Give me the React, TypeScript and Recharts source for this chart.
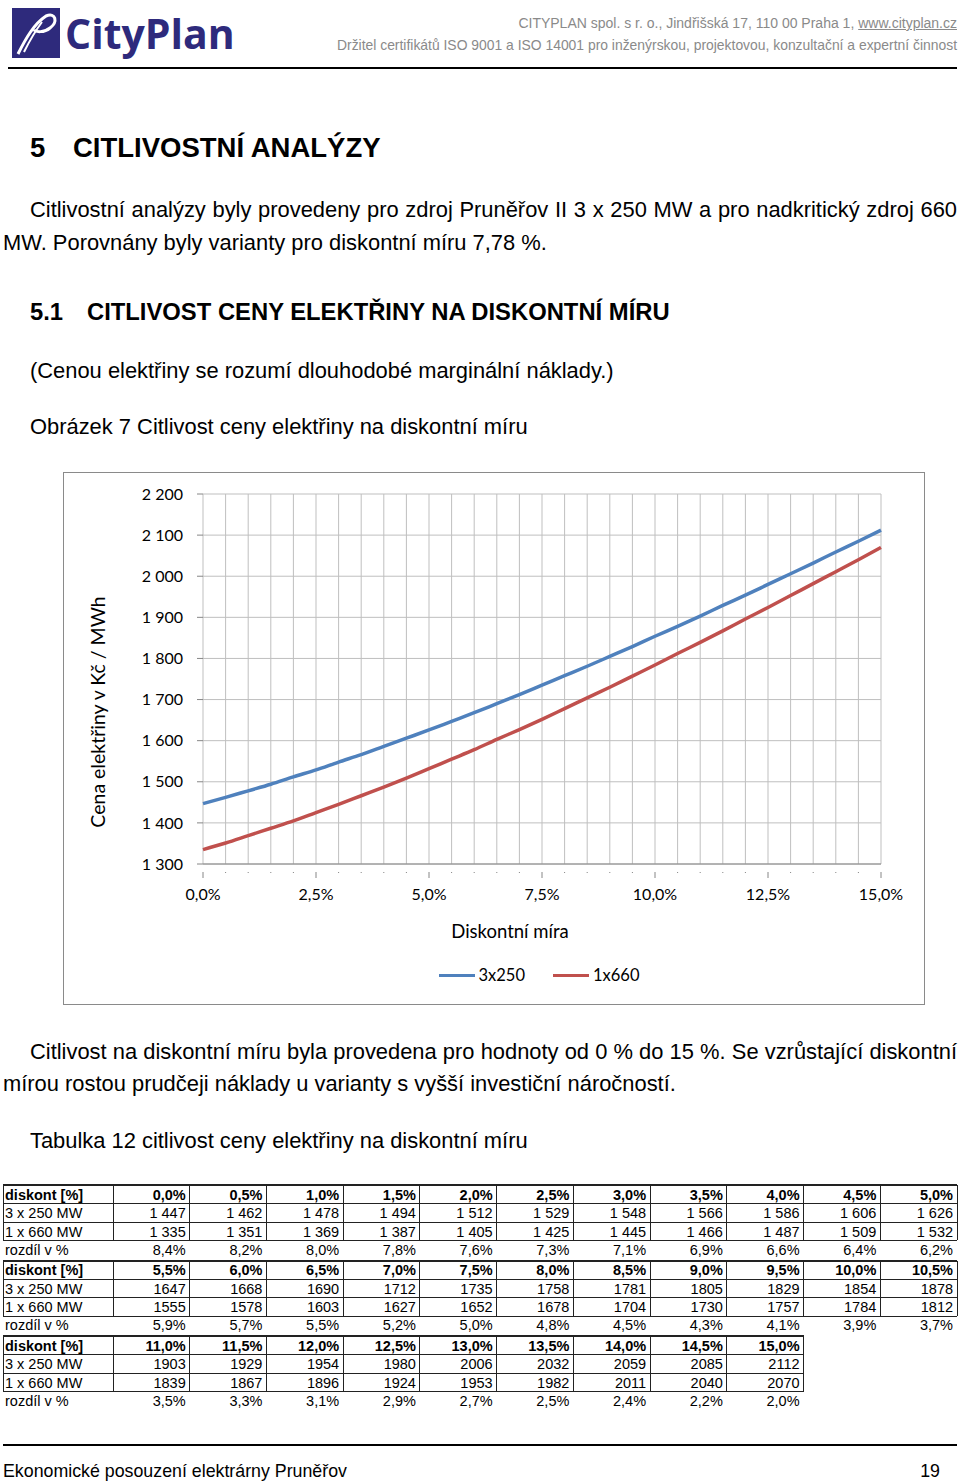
import React from 'react';
import { LineChart, Line, XAxis, YAxis, CartesianGrid, Legend, Label } from 'recharts';

// ---- data ----
const discountRates = [0, 0.5, 1, 1.5, 2, 2.5, 3, 3.5, 4, 4.5, 5, 5.5, 6, 6.5, 7, 7.5, 8, 8.5, 9, 9.5, 10, 10.5, 11, 11.5, 12, 12.5, 13, 13.5, 14, 14.5, 15];
const price3x250 = [1447, 1462, 1478, 1494, 1512, 1529, 1548, 1566, 1586, 1606, 1626, 1647, 1668, 1690, 1712, 1735, 1758, 1781, 1805, 1829, 1854, 1878, 1903, 1929, 1954, 1980, 2006, 2032, 2059, 2085, 2112];
const price1x660 = [1335, 1351, 1369, 1387, 1405, 1425, 1445, 1466, 1487, 1509, 1532, 1555, 1578, 1603, 1627, 1652, 1678, 1704, 1730, 1757, 1784, 1812, 1839, 1867, 1896, 1924, 1953, 1982, 2011, 2040, 2070];
const differencePct = ['8,4%', '8,2%', '8,0%', '7,8%', '7,6%', '7,3%', '7,1%', '6,9%', '6,6%', '6,4%', '6,2%', '5,9%', '5,7%', '5,5%', '5,2%', '5,0%', '4,8%', '4,5%', '4,3%', '4,1%', '3,9%', '3,7%', '3,5%', '3,3%', '3,1%', '2,9%', '2,7%', '2,5%', '2,4%', '2,2%', '2,0%'];
const seriesNames = ['3x250', '1x660'];
const tableRowNames = ['diskont [%]', '3 x 250 MW', '1 x 660 MW', 'rozdíl v %'];
const yTicks = [1300, 1400, 1500, 1600, 1700, 1800, 1900, 2000, 2100, 2200];
const xMajorTicks = [0, 2.5, 5, 7.5, 10, 12.5, 15];
const tableBlocks = [[0, 11], [11, 11], [22, 9]];

const chartData = discountRates.map((r, i) => ({ rate: r, a: price3x250[i], b: price1x660[i] }));

const DOC_FONT = '"Liberation Sans Narrow", "Liberation Sans", Arial, sans-serif';
const TABLE_FONT = '"Liberation Sans", Arial, sans-serif';
const CHART_FONT = 'Lato, "Open Sans", sans-serif';
const BLUE = '#4F81BD';
const RED = '#C0504D';
const NAVY = '#2E2A7C';

const fmtPct = (v: number) => v.toFixed(1).replace('.', ',') + '%';
const fmtThousands = (v: number) => {
  const s = String(v);
  return s.length > 3 ? s.slice(0, s.length - 3) + ' ' + s.slice(s.length - 3) : s;
};
const fmtTable = (v: number) => {
  const s = String(v);
  return s.slice(0, s.length - 3) + ' ' + s.slice(s.length - 3);
};

const T = ({ x, cy, size, children, bold, right, width, justify, color, lh = 30, font = DOC_FONT }: any) => (
  <div
    style={{
      position: 'absolute',
      left: right !== undefined ? undefined : x,
      right: right !== undefined ? 960 - right : undefined,
      top: cy - lh / 2,
      height: lh,
      lineHeight: lh + 'px',
      fontSize: size,
      fontWeight: bold ? 'bold' : 'normal',
      fontFamily: font,
      whiteSpace: 'nowrap',
      color: color || '#000',
      width: width,
      textAlign: justify ? 'justify' : undefined,
      textAlignLast: justify ? 'justify' : undefined,
    } as any}
  >
    {children}
  </div>
);

const XTick = (props: any) => {
  const { x, y, payload } = props;
  const v = payload.value;
  const major = xMajorTicks.includes(v);
  return (
    <g>
      <line x1={x} x2={x} y1={y} y2={y + (major ? 6 : 1)} stroke="#868686" strokeWidth={1} />
      {major && (
        <text x={x} y={y + 21} textAnchor="middle" dominantBaseline="central" fontSize={16} fontFamily={CHART_FONT} fill="#000">
          {fmtPct(v)}
        </text>
      )}
    </g>
  );
};

const YLabel = (props: any) => {
  const vb = props.viewBox;
  const cx = 34;
  const cy = vb.y + vb.height / 2 + 33;
  return (
    <text x={cx} y={cy} transform={`rotate(-90, ${cx}, ${cy})`} textAnchor="middle" dominantBaseline="central" fontSize={19.5} fontFamily={CHART_FONT} fill="#000">
      Cena elektřiny v Kč / MWh
    </text>
  );
};

const XLabel = (props: any) => {
  const vb = props.viewBox;
  const cx = vb.x + vb.width / 2 - 32;
  const cy = vb.y + 67;
  return (
    <text x={cx} y={cy} textAnchor="middle" dominantBaseline="central" fontSize={18.5} fontFamily={CHART_FONT} fill="#000">
      Diskontní míra
    </text>
  );
};

const renderLegend = (props: any) => {
  const items = [...(props.payload || [])].sort((p: any, q: any) => seriesNames.indexOf(p.value) - seriesNames.indexOf(q.value));
  return (
    <div style={{ display: 'flex', justifyContent: 'center', gap: 28, fontFamily: CHART_FONT, fontSize: 16.5, lineHeight: '20px' }}>
      {items.map((e: any) => (
        <div key={e.value} style={{ display: 'flex', alignItems: 'center' }}>
          <span style={{ display: 'inline-block', width: 36, height: 3, background: e.color, marginRight: 4 }} />
          {e.value}
        </div>
      ))}
    </div>
  );
};

const Chart = () => (
  <div style={{ position: 'absolute', left: 63, top: 472, width: 862, height: 533 }}>
    <div style={{ position: 'absolute', left: 0, top: 0, width: 862, height: 533, border: '1px solid #8a8a8a', boxSizing: 'border-box' }} />
    <LineChart width={862} height={533} data={chartData} margin={{ top: 22, right: 44, left: 0, bottom: 0 }}>
      <CartesianGrid stroke="#bfbfbf" strokeWidth={1} />
      <XAxis
        dataKey="rate"
        type="number"
        domain={[0, 15]}
        ticks={discountRates}
        interval={0}
        height={141}
        tickLine={false}
        axisLine={{ stroke: '#868686' }}
        tick={<XTick />}
      >
        <Label content={<XLabel />} />
      </XAxis>
      <YAxis
        type="number"
        domain={[1300, 2200]}
        ticks={yTicks}
        interval={0}
        width={140}
        axisLine={false}
        tickLine={{ stroke: '#868686' }}
        tickSize={6}
        tickMargin={14}
        tickFormatter={fmtThousands}
        tick={{ fontSize: 16, fill: '#000', fontFamily: CHART_FONT }}
      >
        <Label content={<YLabel />} />
      </YAxis>
      <Legend
        layout="horizontal"
        verticalAlign="middle"
        align="center"
        content={renderLegend}
        wrapperStyle={{ left: 137, top: 493, width: 678, height: 20 }}
      />
      <Line type="monotone" dataKey="a" name={seriesNames[0]} stroke={BLUE} strokeWidth={3.5} dot={false} isAnimationActive={false} />
      <Line type="monotone" dataKey="b" name={seriesNames[1]} stroke={RED} strokeWidth={3.5} dot={false} isAnimationActive={false} />
    </LineChart>
  </div>
);

const COL0_L = 3;
const COL0_W = 110;
const COL_W = 76.73;
const ROW_H = 18.4;

const Table = () => {
  const cells: any[] = [];
  tableBlocks.forEach(([start, count], bi) => {
    const top = 1185 + bi * 75.5;
    const right = COL0_L + COL0_W + count * COL_W;
    const rows = [
      discountRates.slice(start, start + count).map(fmtPct),
      price3x250.slice(start, start + count).map((v) => (bi === 0 ? fmtTable(v) : String(v))),
      price1x660.slice(start, start + count).map((v) => (bi === 0 ? fmtTable(v) : String(v))),
      differencePct.slice(start, start + count),
    ];
    cells.push(<div key={`tb${bi}`} style={{ position: 'absolute', left: COL0_L, top: top - 1, width: right - COL0_L, height: 2, background: '#222' }} />);
    [1, 2, 3].forEach((r) => {
      cells.push(<div key={`h${bi}${r}`} style={{ position: 'absolute', left: COL0_L, top: top + r * ROW_H, width: right - COL0_L, height: 1, background: '#222' }} />);
    });
    const xs = [COL0_L, COL0_L + COL0_W];
    for (let c = 1; c <= count; c++) xs.push(COL0_L + COL0_W + c * COL_W);
    xs.forEach((x, i) => {
      cells.push(<div key={`v${bi}${i}`} style={{ position: 'absolute', left: x - 0.5, top: top, width: 1, height: 3 * ROW_H, background: '#222' }} />);
    });
    rows.forEach((vals, r) => {
      const cy = top + r * ROW_H + ROW_H / 2 + 0.5;
      cells.push(
        <div key={`n${bi}${r}`} style={{ position: 'absolute', left: COL0_L + 2, top: cy - 9, height: 18, lineHeight: '18px', fontSize: 14.5, fontFamily: TABLE_FONT, fontWeight: r === 0 ? 'bold' : 'normal', whiteSpace: 'nowrap' }}>
          {tableRowNames[r]}
        </div>
      );
      vals.forEach((v, c) => {
        const xr = COL0_L + COL0_W + (c + 1) * COL_W;
        cells.push(
          <div key={`c${bi}${r}${c}`} style={{ position: 'absolute', left: xr - COL_W, width: COL_W - 4, top: cy - 9, height: 18, lineHeight: '18px', textAlign: 'right', fontSize: 14.5, fontFamily: TABLE_FONT, fontWeight: r === 0 ? 'bold' : 'normal', whiteSpace: 'nowrap' }}>
            {v}
          </div>
        );
      });
    });
  });
  return <>{cells}</>;
};

const Logo = () => (
  <div style={{ position: 'absolute', left: 12, top: 8 }}>
    <svg width={50} height={50} style={{ position: 'absolute', left: 0, top: 0 }}>
      <rect x={0} y={0} width={48} height={50} fill={NAVY} />
      <path d="M6 46 C 14 30, 22 16, 34 8 C 44 4, 46 14, 38 20 C 32 25, 24 24, 22 22" stroke="#fff" strokeWidth={3} fill="none" />
      <path d="M12 44 C 18 32, 24 22, 30 14" stroke="#fff" strokeWidth={2} fill="none" />
    </svg>
    <div style={{ position: 'absolute', left: 53, top: -5, fontSize: 41, fontWeight: 'bold', fontFamily: '"Open Sans", Lato, sans-serif', color: NAVY, whiteSpace: 'nowrap', lineHeight: '60px' }}>
      CityPlan
    </div>
  </div>
);

const BODY = 21.9;

export default function App() {
  return (
    <div style={{ position: 'absolute', left: 0, top: 0, width: 960, height: 1482, background: '#fff', overflow: 'hidden' }}>
      <Logo />
      <T right={957} cy={23} size={14} color="#8a8a8a" lh={18}>
        CITYPLAN spol. s r. o., Jindřišská 17, 110 00 Praha 1, <span style={{ textDecoration: 'underline' }}>www.cityplan.cz</span>
      </T>
      <T right={957} cy={45} size={13.9} color="#8a8a8a" lh={18}>
        Držitel certifikátů ISO 9001 a ISO 14001 pro inženýrskou, projektovou, konzultační a expertní činnost
      </T>
      <div style={{ position: 'absolute', left: 8, top: 67, width: 949, height: 2, background: '#000' }} />

      <T x={30} cy={148} size={27.5} bold>5</T>
      <T x={73} cy={148} size={27.5} bold>CITLIVOSTNÍ ANALÝZY</T>

      <T x={30} cy={210} size={BODY} width={927} justify>
        Citlivostní analýzy byly provedeny pro zdroj Pruněřov II 3 x 250 MW a pro nadkritický zdroj 660
      </T>
      <T x={3} cy={243} size={BODY}>MW. Porovnány byly varianty pro diskontní míru 7,78 %.</T>

      <T x={30} cy={312} size={23.8} bold>5.1</T>
      <T x={87} cy={312} size={23.8} bold>CITLIVOST CENY ELEKTŘINY NA DISKONTNÍ MÍRU</T>

      <T x={30} cy={371} size={BODY}>(Cenou elektřiny se rozumí dlouhodobé marginální náklady.)</T>
      <T x={30} cy={427} size={BODY}>Obrázek 7 Citlivost ceny elektřiny na diskontní míru</T>

      <Chart />

      <T x={30} cy={1052} size={BODY} width={927} justify>
        Citlivost na diskontní míru byla provedena pro hodnoty od 0 % do 15 %. Se vzrůstající diskontní
      </T>
      <T x={3} cy={1084} size={BODY}>mírou rostou prudčeji náklady u varianty s vyšší investiční náročností.</T>

      <T x={30} cy={1141} size={BODY}>Tabulka 12 citlivost ceny elektřiny na diskontní míru</T>

      <Table />

      <div style={{ position: 'absolute', left: 3, top: 1444, width: 954, height: 2, background: '#000' }} />
      <T x={3} cy={1471} size={17.8}>Ekonomické posouzení elektrárny Pruněřov</T>
      <T right={940} cy={1471} size={17.8}>19</T>
    </div>
  );
}
